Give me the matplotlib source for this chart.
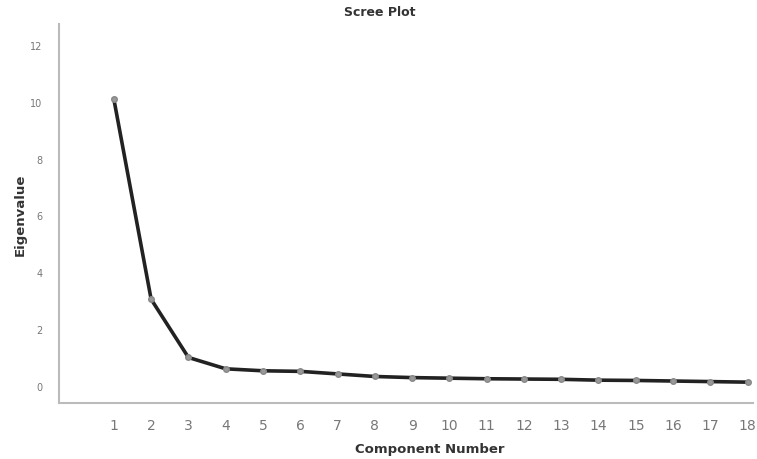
import matplotlib.pyplot as plt

# data
components = list(range(1, 19))
eigenvalues = [10.1, 3.05, 1.0, 0.6, 0.53, 0.51, 0.42, 0.33, 0.29, 0.27,
               0.25, 0.24, 0.23, 0.2, 0.19, 0.17, 0.15, 0.13]
y_ticks = [0, 2, 4, 6, 8, 10, 12]

fig = plt.figure(figsize=(7.57, 4.6), dpi=100)
ax = fig.add_axes([0.078, 0.122, 0.917, 0.824])

ax.plot(components, eigenvalues, color='#222222', linewidth=2.6,
        marker='o', markersize=4, markerfacecolor='#999999',
        markeredgecolor='#888888', zorder=3)

ax.set_xlim(-0.47, 18.15)
ax.set_ylim(-0.6, 12.75)
ax.set_xticks(components)
ax.set_yticks(y_ticks)
ax.tick_params(axis='x', length=0, labelsize=10, colors='#777777', pad=11)
ax.tick_params(axis='y', length=0, labelsize=7, colors='#777777', pad=12)

for side in ['top', 'right']:
    ax.spines[side].set_visible(False)
for side in ['left', 'bottom']:
    ax.spines[side].set_color('#bbbbbb')
    ax.spines[side].set_linewidth(1.5)

# titles placed in figure coordinates so nothing gets clipped
fig.text(380 / 757, 1 - 12 / 460, 'Scree Plot', fontsize=9, fontweight='bold',
         color='#333333', ha='center', va='center')
fig.text(430 / 757, 1 - 450 / 460, 'Component Number', fontsize=9.5,
         fontweight='bold', color='#333333', ha='center', va='center')
fig.text(20 / 757, 1 - 215 / 460, 'Eigenvalue', fontsize=9.5, fontweight='bold',
         color='#333333', ha='center', va='center', rotation=90)

fig.savefig('out.png', dpi=100)
